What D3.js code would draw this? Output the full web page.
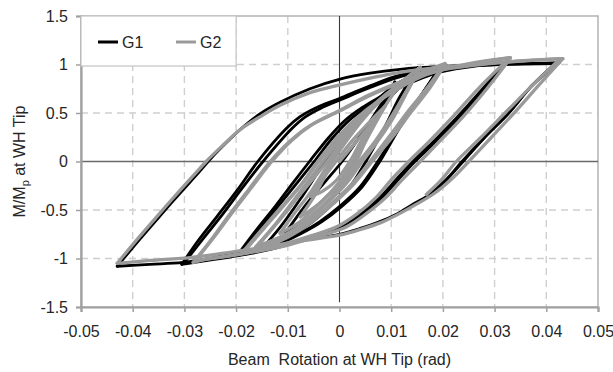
<!DOCTYPE html>
<html>
<head>
<meta charset="utf-8">
<script src="https://cdn.jsdelivr.net/npm/d3@7"></script>
<style>
  html, body { margin: 0; padding: 0; background: #fff; }
  svg { display: block; font-family: "Liberation Sans", Arial, Helvetica, sans-serif; }
</style>
</head>
<body>
<svg id="chart" width="613" height="372"></svg>
<script>
// ---- axis ticks ----
const xTicks = [-0.05, -0.04, -0.03, -0.02, -0.01, 0, 0.01, 0.02, 0.03, 0.04, 0.05];
const xTickLabels = ["-0.05", "-0.04", "-0.03", "-0.02", "-0.01", "0", "0.01", "0.02", "0.03", "0.04", "0.05"];
const yTicks = [-1.5, -1, -0.5, 0, 0.5, 1, 1.5];
const yTickLabels = ["-1.5", "-1", "-0.5", "0", "0.5", "1", "1.5"];
const seriesNames = ["G1", "G2"];

// ---- loading history, one array per half-cycle: [rotation (rad), M/Mp] ----
const g1Branches = [
  [[0, 0], [0.0040, 0.26], [0.0078, 0.57], [0.0107, 0.82]],
  [[0.0107, 0.82], [0.0078, 0.52], [0.0049, 0.21], [0.0030, 0], [0.0001, -0.26], [-0.0038, -0.49], [-0.0076, -0.66], [-0.0105, -0.74]],
  [[-0.0105, -0.74], [-0.0067, -0.46], [-0.0028, -0.21], [0.0005, 0], [0.0040, 0.26], [0.0078, 0.54], [0.0117, 0.77], [0.0152, 0.97]],
  [[0.0152, 0.97], [0.0117, 0.67], [0.0088, 0.36], [0.0051, 0], [0.0020, -0.26], [-0.0018, -0.46], [-0.0057, -0.64], [-0.0105, -0.79], [-0.0150, -0.90]],
  [[-0.0150, -0.90], [-0.0115, -0.68], [-0.0076, -0.39], [-0.0028, 0], [0.0011, 0.29], [0.0059, 0.57], [0.0117, 0.82], [0.0194, 0.97]],
  [[0.0194, 0.97], [0.0156, 0.67], [0.0117, 0.36], [0.0074, 0], [0.0040, -0.26], [0.0001, -0.46], [-0.0038, -0.62], [-0.0076, -0.74], [-0.0134, -0.88], [-0.0198, -0.97]],
  [[-0.0198, -0.97], [-0.0160, -0.70], [-0.0124, -0.46], [-0.0090, -0.22], [-0.0058, 0], [-0.0022, 0.24], [0.0012, 0.43], [0.0045, 0.56], [0.0080, 0.67], [0.0117, 0.78], [0.0156, 0.89], [0.0194, 0.97]],
  [[0.0194, 0.97], [0.0158, 0.68], [0.0119, 0.37], [0.0078, 0], [0.0044, -0.26], [0.0005, -0.46], [-0.0034, -0.62], [-0.0073, -0.74], [-0.0131, -0.88], [-0.0192, -0.96]],
  [[-0.0192, -0.96], [-0.0153, -0.69], [-0.0117, -0.45], [-0.0082, -0.22], [-0.0049, 0], [-0.0014, 0.24], [0.0020, 0.43], [0.0053, 0.56], [0.0088, 0.67], [0.0125, 0.78], [0.0194, 0.92], [0.0272, 0.99], [0.0320, 1.01]],
  [[0.0320, 1.01], [0.0272, 0.72], [0.0223, 0.43], [0.0179, 0.19], [0.0142, 0], [0.0109, -0.19], [0.0078, -0.37], [0.0040, -0.54], [0.0000, -0.67], [-0.0057, -0.78], [-0.0115, -0.88], [-0.0173, -0.95], [-0.0231, -1.00], [-0.0280, -1.04], [-0.0305, -1.06]],
  [[-0.0305, -1.06], [-0.0274, -0.82], [-0.0236, -0.56], [-0.0197, -0.29], [-0.0158, 0], [-0.0103, 0.34], [-0.0077, 0.46], [-0.0047, 0.55], [0.0000, 0.65], [0.0059, 0.78], [0.0117, 0.89], [0.0194, 0.97], [0.0272, 1.00], [0.0320, 1.01]],
  [[0.0320, 1.01], [0.0276, 0.72], [0.0227, 0.43], [0.0183, 0.19], [0.0146, 0], [0.0113, -0.19], [0.0082, -0.37], [0.0044, -0.54], [0.0003, -0.67], [-0.0055, -0.77], [-0.0113, -0.87], [-0.0171, -0.94], [-0.0229, -0.99], [-0.0278, -1.03], [-0.0301, -1.05]],
  [[-0.0301, -1.05], [-0.0266, -0.81], [-0.0227, -0.55], [-0.0189, -0.28], [-0.0148, 0], [-0.0092, 0.34], [-0.0066, 0.46], [-0.0036, 0.55], [0.0008, 0.65], [0.0063, 0.77], [0.0121, 0.88], [0.0194, 0.96], [0.0310, 1.00], [0.0425, 1.02]],
  [[0.0425, 1.02], [0.0374, 0.79], [0.0330, 0.52], [0.0281, 0.25], [0.0239, 0], [0.0208, -0.18], [0.0175, -0.34], [0.0142, -0.44], [0.0111, -0.54], [0.0078, -0.62], [0.0040, -0.69], [0.0000, -0.75], [-0.0076, -0.82], [-0.0154, -0.91], [-0.0231, -0.98], [-0.0303, -1.04], [-0.0367, -1.06], [-0.0430, -1.08]],
  [[-0.0430, -1.08], [-0.0386, -0.80], [-0.0347, -0.56], [-0.0309, -0.33], [-0.0270, -0.10], [-0.0254, 0], [-0.0231, 0.13], [-0.0192, 0.33], [-0.0154, 0.49], [-0.0115, 0.61], [-0.0057, 0.75], [0.0001, 0.85], [0.0059, 0.91], [0.0117, 0.95], [0.0194, 0.98], [0.0310, 1.00], [0.0417, 1.01]],
  [[0.0417, 1.01], [0.0370, 0.77], [0.0326, 0.49], [0.0279, 0.24], [0.0237, 0], [0.0206, -0.19], [0.0175, -0.33]]
];

const g2Branches = [
  [[0, 0], [0.0035, 0.22], [0.0069, 0.43]],
  [[0.0069, 0.43], [0.0044, 0.23], [0.0020, 0], [-0.0007, -0.20], [-0.0034, -0.31], [-0.0057, -0.36]],
  [[-0.0057, -0.36], [-0.0034, -0.19], [-0.0007, 0], [0.0024, 0.21], [0.0055, 0.39], [0.0088, 0.57]],
  [[0.0088, 0.57], [0.0063, 0.36], [0.0044, 0.18], [0.0026, 0], [-0.0003, -0.23], [-0.0034, -0.41], [-0.0061, -0.52], [-0.0076, -0.57]],
  [[-0.0076, -0.57], [-0.0049, -0.36], [-0.0013, 0], [0.0020, 0.26], [0.0059, 0.52], [0.0090, 0.69], [0.0121, 0.82]],
  [[0.0121, 0.82], [0.0094, 0.62], [0.0069, 0.39], [0.0049, 0.19], [0.0032, 0], [0.0003, -0.21], [-0.0034, -0.41], [-0.0076, -0.62], [-0.0115, -0.74]],
  [[-0.0115, -0.74], [-0.0088, -0.54], [-0.0055, -0.31], [-0.0018, 0], [0.0020, 0.29], [0.0063, 0.54], [0.0109, 0.77], [0.0156, 0.97]],
  [[0.0156, 0.97], [0.0129, 0.72], [0.0100, 0.46], [0.0069, 0.21], [0.0038, 0], [0.0005, -0.24], [-0.0034, -0.46], [-0.0076, -0.66], [-0.0115, -0.78], [-0.0158, -0.87]],
  [[-0.0158, -0.87], [-0.0123, -0.65], [-0.0076, -0.34], [-0.0024, 0], [0.0016, 0.29], [0.0059, 0.54], [0.0107, 0.76], [0.0156, 0.97]],
  [[0.0156, 0.97], [0.0131, 0.72], [0.0104, 0.45], [0.0074, 0.21], [0.0044, 0], [0.0011, -0.24], [-0.0030, -0.46], [-0.0074, -0.66], [-0.0115, -0.78], [-0.0162, -0.88]],
  [[-0.0162, -0.88], [-0.0123, -0.64], [-0.0080, -0.34], [-0.0032, 0], [0.0013, 0.30], [0.0057, 0.54], [0.0102, 0.74], [0.0156, 0.91], [0.0204, 1.01]],
  [[0.0204, 1.01], [0.0171, 0.77], [0.0136, 0.54], [0.0098, 0.27], [0.0059, 0], [0.0024, -0.23], [-0.0015, -0.43], [-0.0057, -0.62], [-0.0105, -0.79], [-0.0150, -0.89], [-0.0187, -0.93]],
  [[-0.0187, -0.93], [-0.0150, -0.70], [-0.0111, -0.46], [-0.0076, -0.25], [-0.0040, 0], [0.0001, 0.26], [0.0044, 0.48], [0.0088, 0.67], [0.0136, 0.85], [0.0204, 1.00]],
  [[0.0204, 1.00], [0.0175, 0.76], [0.0140, 0.52], [0.0102, 0.25], [0.0063, 0], [0.0028, -0.23], [-0.0011, -0.43], [-0.0053, -0.62], [-0.0100, -0.78], [-0.0146, -0.88], [-0.0183, -0.92]],
  [[-0.0183, -0.92], [-0.0146, -0.69], [-0.0107, -0.45], [-0.0074, -0.24], [-0.0042, 0], [0.0001, 0.28], [0.0049, 0.52], [0.0098, 0.70], [0.0156, 0.87], [0.0233, 0.99], [0.0330, 1.07]],
  [[0.0330, 1.07], [0.0270, 0.76], [0.0219, 0.46], [0.0174, 0.21], [0.0134, 0], [0.0100, -0.19], [0.0071, -0.37], [0.0034, -0.54], [-0.0004, -0.67], [-0.0057, -0.77], [-0.0113, -0.86], [-0.0169, -0.93], [-0.0225, -0.98], [-0.0261, -1.01], [-0.0283, -1.04]],
  [[-0.0283, -1.04], [-0.0250, -0.82], [-0.0212, -0.54], [-0.0173, -0.27], [-0.0134, 0], [-0.0096, 0.21], [-0.0057, 0.37], [0.0000, 0.52], [0.0059, 0.68], [0.0117, 0.81], [0.0194, 0.94], [0.0272, 1.02], [0.0330, 1.07]],
  [[0.0330, 1.06], [0.0285, 0.75], [0.0237, 0.45], [0.0192, 0.20], [0.0156, 0], [0.0121, -0.19], [0.0090, -0.37], [0.0051, -0.54], [0.0011, -0.68], [-0.0047, -0.78], [-0.0105, -0.87], [-0.0163, -0.93], [-0.0221, -0.98], [-0.0258, -1.01], [-0.0280, -1.03]],
  [[-0.0280, -1.03], [-0.0247, -0.81], [-0.0208, -0.53], [-0.0169, -0.26], [-0.0131, 0], [-0.0092, 0.22], [-0.0053, 0.38], [0.0001, 0.53], [0.0059, 0.69], [0.0117, 0.82], [0.0194, 0.94], [0.0310, 1.02], [0.0432, 1.06]],
  [[0.0432, 1.06], [0.0386, 0.79], [0.0341, 0.52], [0.0294, 0.25], [0.0250, 0], [0.0217, -0.18], [0.0183, -0.33], [0.0149, -0.44], [0.0115, -0.54], [0.0080, -0.63], [0.0041, -0.70], [0.0000, -0.76], [-0.0076, -0.82], [-0.0154, -0.89], [-0.0231, -0.95], [-0.0289, -0.99], [-0.0367, -1.02], [-0.0430, -1.05]],
  [[-0.0430, -1.05], [-0.0386, -0.77], [-0.0347, -0.53], [-0.0309, -0.30], [-0.0270, -0.07], [-0.0258, 0], [-0.0231, 0.14], [-0.0192, 0.33], [-0.0154, 0.46], [-0.0115, 0.58], [-0.0057, 0.71], [0.0001, 0.79], [0.0059, 0.86], [0.0117, 0.92], [0.0194, 0.97], [0.0310, 1.02], [0.0427, 1.06]],
  [[0.0427, 1.06], [0.0372, 0.78], [0.0322, 0.51], [0.0272, 0.24], [0.0226, 0], [0.0197, -0.19], [0.0168, -0.34]]
];

// ---- layout ----
const svg = d3.select("#chart");
const plot = { left: 81, right: 598, top: 16, bottom: 307 };
const x = d3.scaleLinear().domain([-0.05, 0.05]).range([plot.left, plot.right]);
const y = d3.scaleLinear().domain([-1.5, 1.5]).range([plot.bottom, plot.top]);
const textColor = "#262626";
const fontSize = 16;

// dashed grid
const grid = svg.append("g").attr("class", "grid")
  .attr("stroke", "#cfcfcf").attr("stroke-width", 1.4).attr("stroke-dasharray", "7,5");
grid.selectAll("line.v").data(xTicks.filter(d => d !== 0 && Math.abs(d) < 0.05)).join("line")
  .attr("class", "v")
  .attr("x1", d => x(d)).attr("x2", d => x(d))
  .attr("y1", plot.top).attr("y2", plot.bottom);
grid.selectAll("line.h").data(yTicks.filter(d => d !== 0 && Math.abs(d) < 1.5)).join("line")
  .attr("class", "h")
  .attr("x1", plot.left).attr("x2", plot.right)
  .attr("y1", d => y(d)).attr("y2", d => y(d));

// plot frame
svg.append("rect")
  .attr("x", plot.left).attr("y", plot.top)
  .attr("width", plot.right - plot.left).attr("height", plot.bottom - plot.top)
  .attr("fill", "none").attr("stroke", "#b3b3b3").attr("stroke-width", 1.5);

// zero reference lines
svg.append("line")
  .attr("x1", plot.left).attr("x2", plot.right)
  .attr("y1", y(0)).attr("y2", y(0))
  .attr("stroke", "#6a6a6a").attr("stroke-width", 1.6);
svg.append("line")
  .attr("x1", x(0)).attr("x2", x(0))
  .attr("y1", y(1.5)).attr("y2", y(-1.45))
  .attr("stroke", "#3a3a3a").attr("stroke-width", 1.1);

// axes
const xAxis = svg.append("g")
  .attr("transform", `translate(0,${plot.bottom})`)
  .call(d3.axisBottom(x).tickValues(xTicks).tickFormat((d, i) => xTickLabels[i]).tickSize(5).tickPadding(14));
const yAxis = svg.append("g")
  .attr("transform", `translate(${plot.left},0)`)
  .call(d3.axisLeft(y).tickValues(yTicks).tickFormat((d, i) => yTickLabels[i]).tickSize(5).tickPadding(8));
[xAxis, yAxis].forEach(g => {
  g.select(".domain").attr("stroke", "#a0a0a0").attr("stroke-width", 2.2);
  g.selectAll(".tick line").attr("stroke", "#a0a0a0").attr("stroke-width", 1.5);
  g.selectAll(".tick text").attr("fill", textColor)
    .style("font-size", fontSize + "px")
    .style("font-family", '"Liberation Sans", Arial, sans-serif');
});

// axis titles
svg.append("text")
  .attr("x", x(0)).attr("y", 365)
  .attr("text-anchor", "middle")
  .style("white-space", "pre")
  .attr("fill", textColor).style("font-size", fontSize + "px")
  .text("Beam  Rotation at WH Tip (rad)");

const yTitle = svg.append("text")
  .attr("transform", `translate(25,${y(0)}) rotate(-90)`)
  .attr("text-anchor", "middle")
  .attr("fill", textColor).style("font-size", fontSize + "px");
yTitle.append("tspan").text("M/M");
yTitle.append("tspan").attr("dy", 4).style("font-size", "11px").text("p");
yTitle.append("tspan").attr("dy", -4).text(" at WH Tip");

// hysteresis curves
const line = d3.line()
  .x(d => x(d[0]))
  .y(d => y(d[1]))
  .curve(d3.curveCatmullRom.alpha(0.5));

const seriesStyle = [
  { branches: g1Branches, color: "#000000", width: 2.8 },
  { branches: g2Branches, color: "#9a9a9a", width: 3.3 }
];

// G1 first, G2 drawn over it
seriesStyle.forEach(s => {
  svg.append("g")
    .attr("fill", "none")
    .attr("stroke", s.color)
    .attr("stroke-width", s.width)
    .attr("stroke-linejoin", "round")
    .attr("stroke-linecap", "round")
    .selectAll("path").data(s.branches).join("path")
    .attr("d", line);
});

// legend
const legend = svg.append("g");
legend.append("rect")
  .attr("x", x(-0.05)).attr("y", y(1.5))
  .attr("width", x(-0.02) - x(-0.05)).attr("height", y(1) - y(1.5) + 1.5)
  .attr("fill", "#fff").attr("stroke", "#c4c4c4").attr("stroke-width", 1.2);
const legendX = [98, 176];
seriesNames.forEach((name, i) => {
  const s = seriesStyle[i];
  legend.append("line")
    .attr("x1", legendX[i]).attr("x2", legendX[i] + 20)
    .attr("y1", 42).attr("y2", 42)
    .attr("stroke", s.color).attr("stroke-width", 3);
  legend.append("text")
    .attr("x", legendX[i] + 24).attr("y", 48)
    .attr("fill", textColor).style("font-size", fontSize + "px")
    .text(name);
});
</script>
</body>
</html>
